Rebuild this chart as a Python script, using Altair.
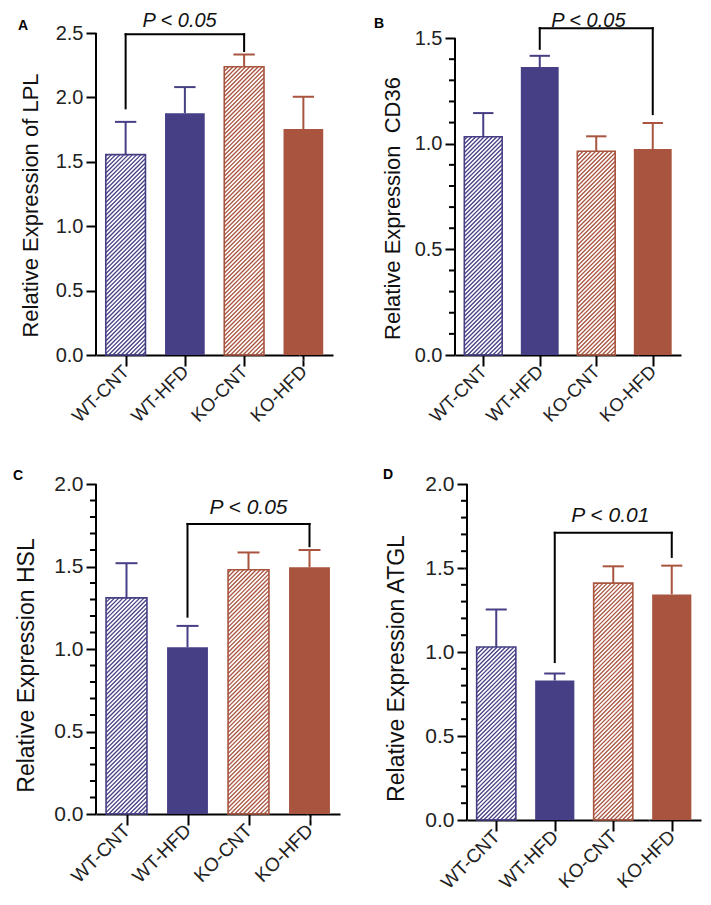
import math
import altair as alt
import pandas as pd

FONT = "Liberation Sans"

# ---------------- data ----------------
groups = ["WT-CNT", "WT-HFD", "KO-CNT", "KO-HFD"]
genotype = ["WT", "WT", "KO", "KO"]
hatched = [True, False, True, False]

lpl_mean = [1.556, 1.877, 2.238, 1.754]
lpl_sem = [0.254, 0.203, 0.095, 0.251]
cd36_mean = [1.033, 1.363, 0.964, 0.975]
cd36_sem = [0.112, 0.053, 0.071, 0.123]
hsl_mean = [1.31, 1.01, 1.48, 1.495]
hsl_sem = [0.21, 0.13, 0.105, 0.105]
atgl_mean = [1.03, 0.83, 1.41, 1.343]
atgl_sem = [0.223, 0.042, 0.10, 0.171]

# bracket: left group index, right group index, left end, right end, top
lpl_bracket = [0, 2, 1.915, 2.36, 2.49]
cd36_bracket = [1, 3, 1.449, 1.14, 1.547]
hsl_bracket = [1, 3, 1.196, 1.623, 1.758]
atgl_bracket = [1, 3, 0.94, 1.566, 1.71]

p_labels = ["P < 0.05", "P < 0.05", "P < 0.05", "P < 0.01"]
p_label_x = [1.41, 2.36, 2.5, 2.45]
p_label_y = [2.597, 1.583, 1.856, 1.81]

titles = ["Relative Expression of LPL", "Relative Expression\u00a0\u00a0CD36",
          "Relative Expression HSL", "Relative Expression ATGL"]
letters = ["A", "B", "C", "D"]
axis_top = [2.5, 1.5, 2.0, 2.0]          # last labelled tick
scale_top = [2.5, 1.524, 2.0, 2.0]       # top of plotting area
y_minor = [False, True, True, True]

# ---------------- style ----------------
BLUE = "#463F85"
RED = "#A8543F"
HBLUE = "#4F4D95"
HRED = "#B35E4D"
HALF = 0.335
CAP = 0.18


def hatch_segments(means, W, H, ymax, spacing=4.2):
    kx = W / 4.0
    ky = H / ymax
    rows = []
    for i, (m, h, g) in enumerate(zip(means, hatched, genotype)):
        if not h:
            continue
        xl = (i + 0.5 - HALF) * kx
        xr = (i + 0.5 + HALF) * kx
        ut = m * ky
        k0 = math.floor((xl - ut) / spacing)
        k1 = math.ceil(xr / spacing)
        for k in range(k0, k1 + 1):
            c = k * spacing
            a = max(xl, c)
            b = min(xr, c + ut)
            if b - a > 0.3:
                rows.append({"hx1": a / kx, "hx2": b / kx,
                             "hy1": (a - c) / ky, "hy2": (b - c) / ky, "geno": g})
    return pd.DataFrame(rows)


def panel(idx, means, sems, bracket, W, H, box, letter_xy, fonts, title_pos):
    Lp, Tp, Rp, Bp = box
    xlab_fs, ylab_fs, title_fs, p_fs = fonts
    ymax = scale_top[idx]
    atop = axis_top[idx]
    pos = [i + 0.5 for i in range(4)]
    df = pd.DataFrame({
        "group": groups, "pos": pos, "mean": means, "sem": sems,
        "hatched": hatched, "geno": genotype,
    })
    df["x1"] = df["pos"] - HALF
    df["x2"] = df["pos"] + HALF
    df["c1"] = df["pos"] - CAP
    df["c2"] = df["pos"] + CAP
    df["top"] = df["mean"] + df["sem"]
    df["base"] = 0.0

    xscale = alt.Scale(domain=[0, 4], nice=False, zero=False)
    yscale = alt.Scale(domain=[0, ymax], nice=False, zero=True)
    cscale = alt.Scale(domain=["WT", "KO"], range=[BLUE, RED])
    hscale = alt.Scale(domain=["WT", "KO"], range=[HBLUE, HRED])

    label_arr = "[" + ",".join("'" + g + "'" for g in groups) + "]"
    xaxis = alt.Axis(values=pos, labelExpr=label_arr + "[floor(datum.value)]",
                     title=None, labelAngle=-45, labelAlign="right",
                     labelBaseline="middle", labelPadding=2, labelFontSize=xlab_fs,
                     labelOverlap=False, labelFlush=False, tickSize=11,
                     labelColor="#222")
    majors = [round(v * 0.5, 2) for v in range(int(round(atop / 0.5)) + 1)]
    yaxis = alt.Axis(values=majors, format=".1f", title=titles[idx], domain=False,
                     tickSize=10, labelFontSize=ylab_fs, labelPadding=3,
                     labelColor="#222", labelFlush=False, labelOverlap=False,
                     titleFontSize=title_fs, titleFontWeight="normal", titleColor="#111",
                     titleAngle=270, titleX=title_pos[0], titleY=title_pos[1],
                     titleAlign="center", titleBaseline="alphabetic")

    def X(f):
        return alt.X(f, scale=xscale, axis=xaxis)

    def Y(f):
        return alt.Y(f, scale=yscale, axis=yaxis)

    one = pd.DataFrame({"a": [0]})
    layers = []
    # invisible anchor box fixing the panel's layout bounds
    layers.append(alt.Chart(one).mark_rule(color="white", strokeWidth=0.3).encode(
        x=alt.value(-(Lp - 0.5)), x2=alt.value(W + Rp - 0.5),
        y=alt.value(-(Tp - 0.5)), y2=alt.value(H + Bp - 0.5)))

    solid = df[~df["hatched"]]
    layers.append(alt.Chart(solid).mark_rect().encode(
        x=X("x1:Q"), x2="x2:Q", y=Y("mean:Q"), y2="base:Q",
        color=alt.Color("geno:N", scale=cscale, legend=None)))

    hdf = hatch_segments(means, W, H, ymax)
    layers.append(alt.Chart(hdf).mark_rule(strokeWidth=1.3).encode(
        x=X("hx1:Q"), x2="hx2:Q", y=Y("hy1:Q"), y2="hy2:Q",
        color=alt.Color("geno:N", scale=hscale, legend=None)))

    hat = df[df["hatched"]]
    layers.append(alt.Chart(hat).mark_rect(filled=False, strokeWidth=1.6).encode(
        x=X("x1:Q"), x2="x2:Q", y=Y("mean:Q"), y2="base:Q",
        color=alt.Color("geno:N", scale=hscale, legend=None)))

    layers.append(alt.Chart(df).mark_rule(strokeWidth=2).encode(
        x=X("pos:Q"), y=Y("mean:Q"), y2="top:Q",
        color=alt.Color("geno:N", scale=cscale, legend=None)))
    layers.append(alt.Chart(df).mark_rule(strokeWidth=2).encode(
        x=X("c1:Q"), x2="c2:Q", y=Y("top:Q"),
        color=alt.Color("geno:N", scale=cscale, legend=None)))

    # y axis line (0 .. last labelled tick)
    adf = pd.DataFrame({"y0": [0.0], "y1": [atop]})
    layers.append(alt.Chart(adf).mark_rule(strokeWidth=2, color="black").encode(
        x=alt.value(0), y=Y("y0:Q"), y2="y1:Q"))

    if y_minor[idx]:
        mv = [round(v * 0.1, 2) for v in range(int(round(atop / 0.1)) + 1)]
        mv = [v for v in mv if abs(v / 0.5 - round(v / 0.5)) > 1e-6]
        mdf = pd.DataFrame({"v": mv})
        layers.append(alt.Chart(mdf).mark_rule(strokeWidth=2, color="black").encode(
            x=alt.value(-6), x2=alt.value(0), y=Y("v:Q")))

    li, ri, yl, yr, yt = bracket
    bdf = pd.DataFrame({
        "bx1": [pos[li], pos[li], pos[ri]],
        "bx2": [pos[li], pos[ri], pos[ri]],
        "by1": [yl, yt, yt],
        "by2": [yt, yt, yr],
    })
    layers.append(alt.Chart(bdf).mark_rule(strokeWidth=2, color="black", strokeCap="square").encode(
        x=X("bx1:Q"), x2="bx2:Q", y=Y("by1:Q"), y2="by2:Q"))

    pdf = pd.DataFrame({"px": [p_label_x[idx]], "py": [p_label_y[idx]], "t": [p_labels[idx]]})
    layers.append(alt.Chart(pdf).mark_text(font=FONT, fontSize=p_fs, fontStyle="italic",
                                           color="#111", baseline="middle", align="center").encode(
        x=X("px:Q"), y=Y("py:Q"), text="t:N"))

    layers.append(alt.Chart(one).mark_text(font=FONT, fontSize=14, fontWeight="bold",
                                           color="black", baseline="middle", align="center").encode(
        x=alt.value(letter_xy[0]), y=alt.value(letter_xy[1]), text=alt.value(letters[idx])))

    return alt.layer(*layers).properties(width=W, height=H)


# width, height, (left, top, right, bottom) layout box, letter position,
# fonts (x labels, y labels, y title, p text), y-title position
pA = panel(0, lpl_mean, lpl_sem, lpl_bracket, 237, 322, (88, 27, 37, 85), (-73, -7),
           (18.5, 20, 22, 20), (-59, 172))
pB = panel(1, cd36_mean, cd36_sem, cd36_bracket, 226, 322, (85, 27, 22, 85), (-76, -9),
           (18.5, 20, 22, 20), (-56, 175))
pC = panel(2, hsl_mean, hsl_sem, hsl_bracket, 244, 330, (88, 44, 30, 79), (-78, -8),
           (19, 21, 23, 21), (-63, 181))
pD = panel(3, atgl_mean, atgl_sem, atgl_bracket, 234, 336, (97, 44, 2, 73), (-79, -9),
           (19, 21, 23, 21), (-64, 184))

chart = alt.vconcat(
    alt.hconcat(pA, pB, spacing=0),
    alt.hconcat(pC, pD, spacing=0),
    spacing=0,
).properties(
    padding={"top": -2, "left": 0, "right": 0, "bottom": 0}, background="white"
).configure_view(strokeWidth=0).configure_axis(
    grid=False, domainColor="black", domainWidth=2, tickColor="black", tickWidth=2,
    labelFont=FONT, titleFont=FONT,
)

chart.save("out.html", embed_options={"renderer": "svg", "actions": False})
